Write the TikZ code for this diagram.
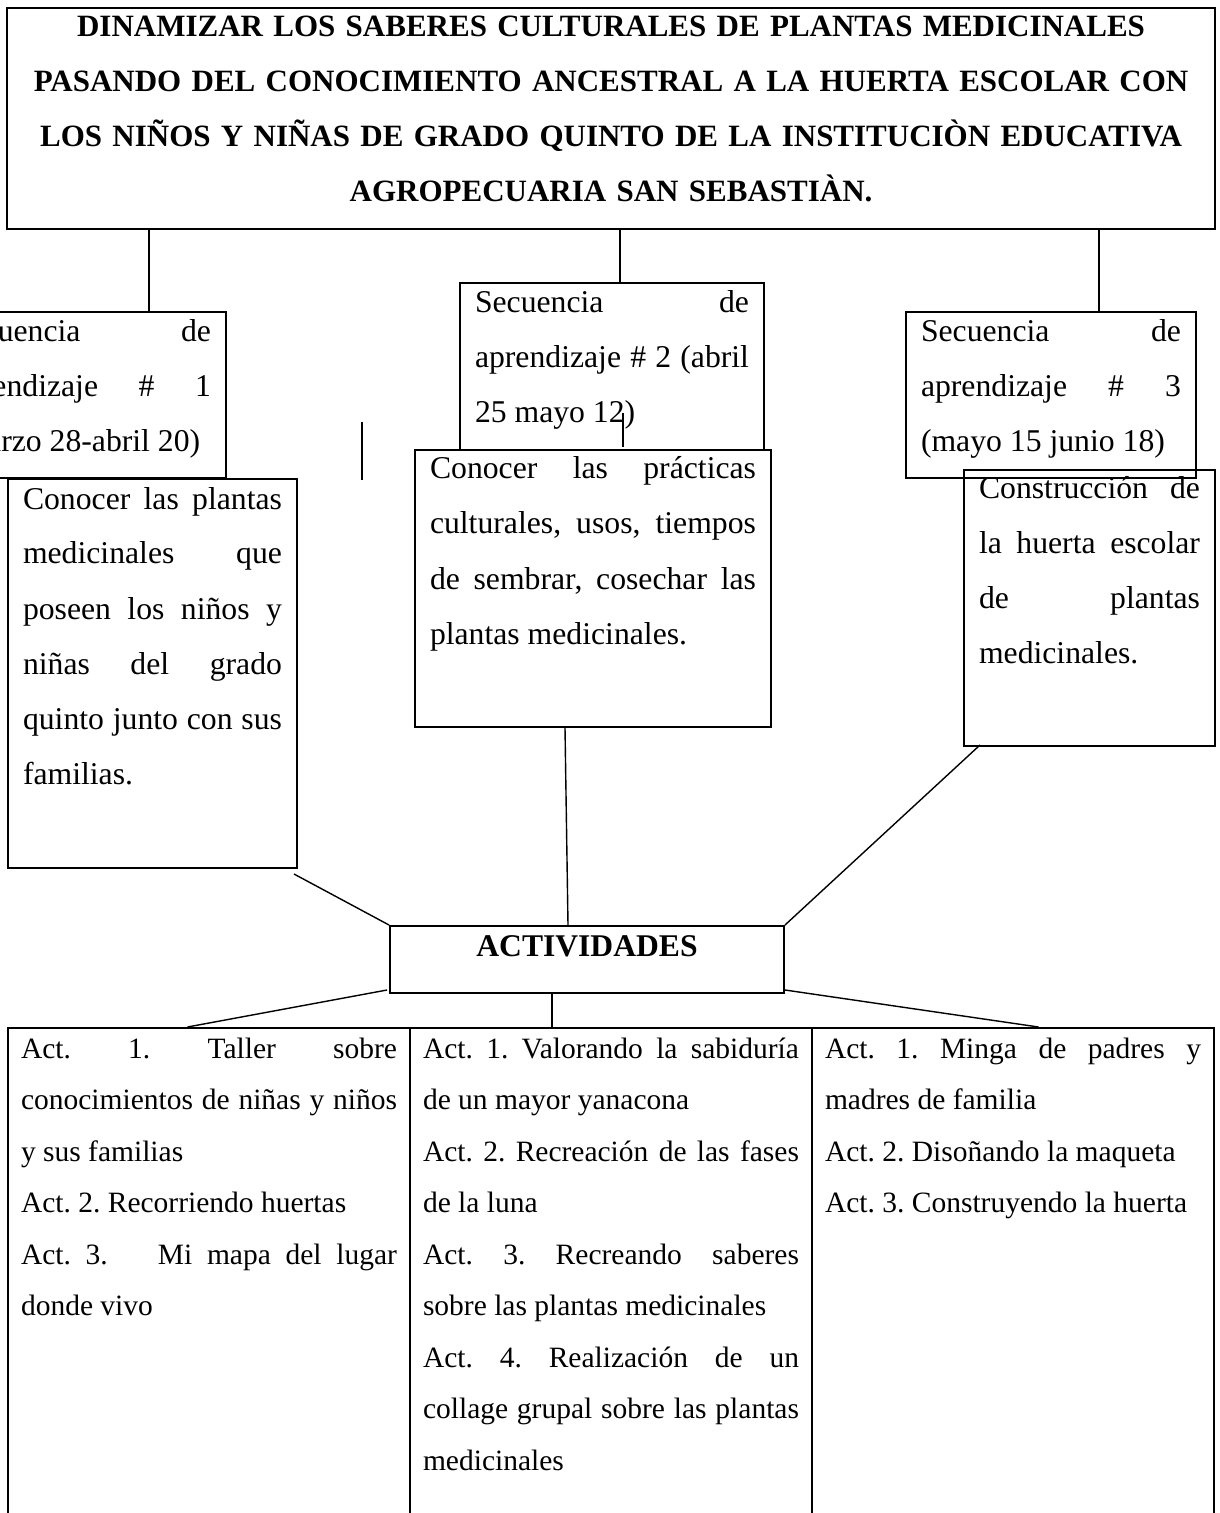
\documentclass[tikz,border=0pt]{standalone}
\usepackage{fontspec}
\setmainfont{Liberation Serif}
\usetikzlibrary{positioning}
\hyphenpenalty=10000
\exhyphenpenalty=10000
\frenchspacing
\setlength{\parindent}{0pt}

\begin{document}
\begin{tikzpicture}[x=0.5pt, y=-0.5pt,
		caja/.style={draw, line width=1pt, anchor=north west, align=justify, inner xsep=7.5pt, inner ysep=0pt, text height=15pt, font=\fontsize{15.85pt}{27.5pt}\selectfont},
		celda/.style={draw, line width=1pt, anchor=north west, align=justify, text width=188pt, inner xsep=6.5pt, inner ysep=0pt, text height=15pt, text depth=240pt, font=\fontsize{14.75pt}{25.75pt}\selectfont},
		linea/.style={line width=0.7pt}]
		\useasboundingbox (0,0) rectangle (1219,1513);
		\clip (0,0) rectangle (1219,1513);
		\node[draw, line width=1.1pt, anchor=north west, text width=600pt, align=center, inner xsep=2pt, inner ysep=0pt, text height=14pt, text depth=96.5pt, font=\fontsize{15.5pt}{27.5pt}\selectfont\bfseries] (tit) at (6,7) {DINAMIZAR LOS SABERES CULTURALES DE PLANTAS MEDICINALES\\ PASANDO DEL CONOCIMIENTO ANCESTRAL A LA HUERTA ESCOLAR CON\\ LOS NIÑOS Y NIÑAS DE GRADO QUINTO DE LA INSTITUCIÒN EDUCATIVA\\ AGROPECUARIA SAN SEBASTIÀN.};
		\node[caja, text width=129.5pt, text depth=68pt] (sec1) at (-64,311) {Secuencia de\linebreak aprendizaje \# 1\linebreak (marzo 28-abril 20)};
		\node[caja, text width=137pt, text depth=68.5pt] (sec2) at (459,282) {Secuencia de\linebreak aprendizaje \# 2 (abril\linebreak 25 mayo 12)};
		\node[caja, text width=130pt, text depth=68pt] (sec3) at (905,311) {Secuencia de\linebreak aprendizaje \# 3\linebreak (mayo 15 junio 18)};
		\node[caja, text width=129.5pt, text depth=179.5pt] (obj1) at (7,478) {Conocer las plantas\linebreak medicinales que\linebreak poseen los niños y\linebreak niñas del grado\linebreak quinto junto con sus\linebreak familias.};
		\node[caja, text width=163pt, text height=14.5pt, text depth=124pt] (obj2) at (414,449) {Conocer las prácticas\linebreak culturales, usos, tiempos\linebreak de sembrar, cosechar las\linebreak plantas medicinales.};
		\node[caja, text width=110.5pt, text height=14pt, text depth=124pt] (obj3) at (963,469) {Construcción de\linebreak la huerta escolar\linebreak de plantas\linebreak medicinales.};
		\node[draw, line width=1pt, anchor=north west, minimum width=197pt, inner xsep=0pt, inner ysep=0pt, text height=15pt, text depth=18.5pt, font=\fontsize{15.8pt}{18pt}\selectfont\bfseries] (act) at (389,925) {ACTIVIDADES};
		\node[celda] (col1) at (7,1027) {Act. 1. Taller sobre\linebreak conocimientos de niñas y niños\linebreak y sus familias\par Act. 2. Recorriendo huertas\par Act. 3.\hspace{1.2em} Mi mapa del lugar\linebreak donde vivo};
		\node[celda, right=-1pt of col1] (col2) {Act. 1. Valorando la sabiduría\linebreak de un mayor yanacona\par Act. 2. Recreación de las fases\linebreak de la luna\par Act. 3. Recreando saberes\linebreak sobre las plantas medicinales\par Act. 4. Realización de un\linebreak collage grupal sobre las plantas\linebreak medicinales};
		\node[celda, right=-1pt of col2] (col3) {Act. 1. Minga de padres y\linebreak madres de familia\par Act. 2. Disoñando la maqueta\par Act. 3. Construyendo la huerta};
		\draw[linea] ([xshift=33.75pt]sec1.north) -- ([xshift=33.75pt]sec1.north |- tit.south);
		\draw[linea] ([xshift=4pt]sec2.north) -- ([xshift=4pt]sec2.north |- tit.south);
		\draw[linea] ([xshift=24pt]sec3.north) -- ([xshift=24pt]sec3.north |- tit.south);
		\draw[linea] ([shift={(-2pt,-2.5pt)}]obj1.south east) -- (act.north west);
		\draw[linea] ([xshift=-14pt]obj2.south) -- ([xshift=-9.5pt]act.north);
		\draw[linea] ([shift={(8.5pt,1pt)}]obj3.south west) -- (act.north east);
		\draw[linea] ([shift={(-1pt,2pt)}]act.south west) -- ([xshift=-10.75pt]col1.north);
		\draw[linea] ([xshift=-17.5pt]act.south) -- ([xshift=-17.5pt]act.south |- col2.north);
		\draw[linea] ([yshift=2pt]act.south east) -- ([xshift=12.75pt]col3.north);
		\draw[linea] (362,422) -- (362,480);
		\draw[linea] (623,413) -- (623,447);
	\end{tikzpicture}
\end{document}
